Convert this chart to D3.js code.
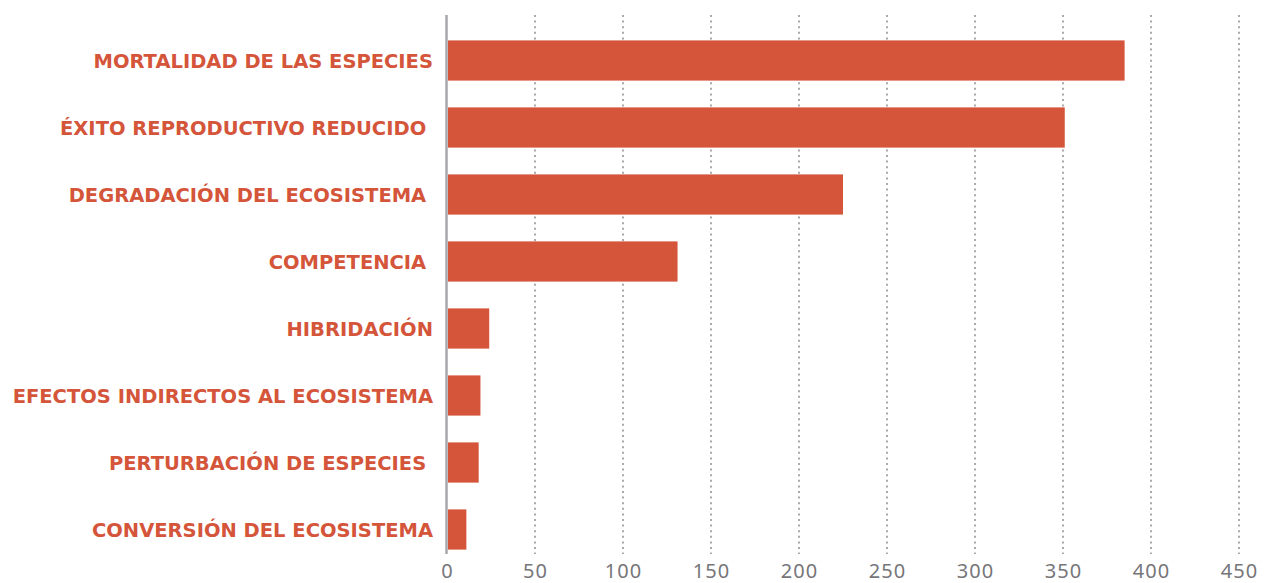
<!DOCTYPE html>
<html><head><meta charset="utf-8">
<script src="https://cdn.jsdelivr.net/npm/d3@7"></script>
<style>body{margin:0;background:#fff}svg{display:block}</style>
</head><body><svg id="c" width="1269" height="583"></svg>
<script>
const categories = ["MORTALIDAD DE LAS ESPECIES","ÉXITO REPRODUCTIVO REDUCIDO ","DEGRADACIÓN DEL ECOSISTEMA ","COMPETENCIA ","HIBRIDACIÓN","EFECTOS INDIRECTOS AL ECOSISTEMA","PERTURBACIÓN DE ESPECIES ","CONVERSIÓN DEL ECOSISTEMA"];
const values = [385, 351, 225, 131, 24, 19, 18, 11];
const tickValues = [0,50,100,150,200,250,300,350,400,450];

const svg = d3.select("#c");
const x = d3.scaleLinear().domain([0,450]).range([447,1239]);
const y = d3.scaleBand().domain(categories).range([27,563]).paddingInner(0.4).paddingOuter(0.2);

// dotted gridlines
svg.append("g").selectAll("line").data(tickValues.slice(1)).join("line")
  .attr("x1", d=>x(d)).attr("x2", d=>x(d)).attr("y1",15).attr("y2",554)
  .attr("stroke","#a9a9ad").attr("stroke-width",2).attr("stroke-dasharray","2,3.6");

// bars
svg.append("g").selectAll("rect").data(values).join("rect")
  .attr("x", x(0)+1).attr("y",(d,i)=>y(categories[i]))
  .attr("width", d=>x(d)-x(0)-1).attr("height", y.bandwidth())
  .attr("fill","#d4553a");

// axis line
svg.append("line").attr("x1",446.5).attr("x2",446.5).attr("y1",15).attr("y2",554)
  .attr("stroke","#a7a7ab").attr("stroke-width",2.5);

// bottom tick labels
const xAxis = d3.axisBottom(x).tickValues(tickValues).tickSize(0).tickPadding(0);
const gx = svg.append("g").attr("transform","translate(0,578)").call(xAxis);
gx.select(".domain").remove();
gx.selectAll("text").attr("y",0).attr("dy","0").attr("fill","#76767a")
  .style("letter-spacing","1px")
  .style("font-family","'Noto Sans', sans-serif").style("font-size","20px").style("font-weight","400");

// category labels
const yAxis = d3.axisLeft(y).tickSize(0).tickPadding(14);
const gy = svg.append("g").attr("transform",`translate(${x(0)},0)`).call(yAxis);
gy.select(".domain").remove();
gy.selectAll("text").attr("fill","#d4553a").attr("dy","0.36em")
  .style("white-space","pre")
  .style("font-family","'DejaVu Sans', sans-serif").style("font-size","19.5px").style("font-weight","700");
</script>
</body></html>
